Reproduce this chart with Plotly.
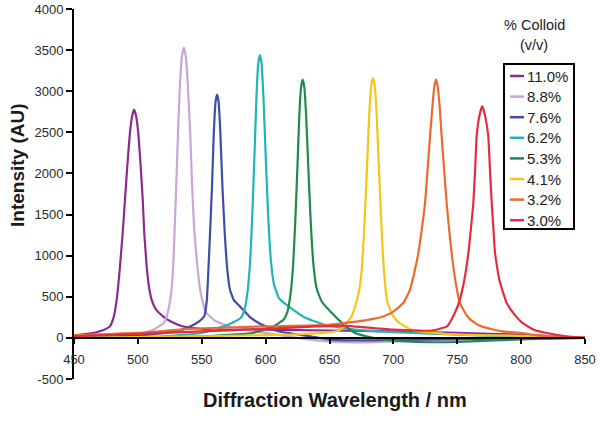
import plotly.graph_objects as go

# ---- data ----
series_names = ["11.0%", "8.8%", "7.6%", "6.2%", "5.3%", "4.1%", "3.2%", "3.0%"]
series_colors = ["#8C2A8E", "#C9A6D8", "#3E4EA6", "#22B4B6", "#1F8A4E", "#F5C51A", "#EC6A2E", "#E42C40"]

wl_110 = [450, 465, 472, 478, 481, 483.4, 486, 488.1, 489.9, 491.7, 493.8, 495.5, 497, 498.6, 500.3, 502.2, 503.8, 505, 506.9, 508.5, 510.8, 514, 519.9, 527, 535.6, 556, 580, 600, 650, 700, 750, 800, 850]
in_110 = [30, 60, 90, 140, 250, 462, 868, 1276, 1680, 2085, 2495, 2700, 2775, 2700, 2495, 2085, 1680, 1276, 868, 640, 462, 350, 259, 190, 138, 100, 100, 100, 90, 80, 60, 40, 0]

wl_88 = [450, 480, 500, 512, 520, 523, 526, 527.7, 529, 530, 531.5, 533, 534.5, 536, 537.5, 539, 541, 542.5, 544, 546.5, 549, 553, 560, 575, 600, 625, 650, 675, 700, 750, 800, 850]
in_88 = [0, 15, 40, 100, 177, 282, 530, 883, 1412, 1836, 2542, 3106, 3424, 3530, 3424, 3106, 2471, 1836, 1341, 883, 565, 318, 212, 120, 60, 0, -45, -55, -45, -20, -5, 0]

wl_76 = [450, 500, 530, 541, 548, 552, 554, 555.2, 556.5, 558, 559.5, 560.8, 562, 563.2, 564.5, 566.2, 568, 570, 572, 575, 580, 588, 596, 610, 630, 650, 680, 720, 780, 850]
in_76 = [10, 30, 80, 140, 200, 266, 462, 829, 1273, 1835, 2516, 2871, 2960, 2871, 2516, 1835, 1273, 829, 592, 462, 380, 250, 170, 80, 30, -20, -30, -20, -10, 0]

wl_62 = [450, 520, 550, 570, 580.5, 583.5, 586, 588, 589.7, 591.3, 592.8, 594.2, 595.5, 596.8, 598.3, 600, 601.8, 604, 606.5, 610.5, 618.5, 631.5, 647.5, 670, 700, 750, 800, 850]
in_62 = [0, 20, 60, 155, 241, 344, 585, 963, 1548, 2236, 2924, 3337, 3440, 3337, 2924, 2236, 1548, 963, 654, 482, 378, 241, 155, 100, 70, 40, 10, 0]

wl_53 = [450, 550, 590, 605, 614, 617, 619.5, 621.5, 623.2, 624.8, 626.3, 627.7, 629, 630.3, 631.8, 633.5, 635.3, 637.5, 640, 644, 652, 660, 670, 690, 720, 750, 780, 820, 850]
in_53 = [0, 20, 60, 130, 220, 314, 534, 879, 1413, 2041, 2669, 3046, 3140, 3046, 2669, 2041, 1413, 879, 597, 440, 300, 180, 60, -20, -50, -50, -30, -10, 0]

wl_41 = [450, 550, 620, 650, 658, 667, 671.5, 673.5, 675.5, 677.5, 679.3, 681, 682.6, 684, 685.4, 687, 688.7, 690.5, 692.3, 695, 699, 704, 715, 740, 780, 820, 850]
in_41 = [0, 20, 40, 70, 95, 253, 461, 600, 885, 1422, 2054, 2686, 3065, 3160, 3065, 2686, 2054, 1422, 885, 461, 284, 190, 95, 50, 30, 20, 0]

wl_32 = [450, 500, 540, 600, 650, 680, 692, 700, 708, 713, 716.5, 719.5, 722.3, 724.8, 726.8, 728.7, 730.5, 732, 733.4, 734.8, 736.3, 737.8, 739.7, 741.7, 743.6, 745.6, 748.5, 752, 758, 764, 770, 785, 799, 820, 850]
in_32 = [30, 60, 110, 140, 160, 220, 260, 320, 430, 584, 800, 1030, 1330, 1640, 2050, 2450, 2800, 3050, 3140, 3050, 2800, 2450, 2050, 1640, 1330, 1030, 700, 426, 260, 180, 134, 80, 60, 20, 0]

wl_30 = [450, 500, 550, 600, 640, 660, 700, 730, 742, 748, 752, 755.5, 758.7, 760.7, 762.6, 764, 765.2, 767.3, 769.6, 771.8, 774.3, 775.6, 777, 778.3, 779.6, 783, 788.7, 795, 801, 810, 820, 835, 850]
in_30 = [20, 50, 80, 110, 140, 150, 100, 90, 140, 300, 462, 700, 1030, 1330, 1640, 2050, 2450, 2700, 2820, 2700, 2450, 2050, 1640, 1330, 1030, 700, 426, 280, 182, 100, 60, 20, 0]

wavelengths = [wl_110, wl_88, wl_76, wl_62, wl_53, wl_41, wl_32, wl_30]
intensities = [in_110, in_88, in_76, in_62, in_53, in_41, in_32, in_30]

x_ticks = [450, 500, 550, 600, 650, 700, 750, 800, 850]
y_ticks = [-500, 0, 500, 1000, 1500, 2000, 2500, 3000, 3500, 4000]
y_tick_text = ["-500", "0", "500", "1000", "1500", "2000", "2500", "3000", "3500", "4000"]
x_range = [450, 850]
y_range = [-500, 4000]

# ---- layout geometry (page pixels) ----
W, H = 600, 421
PLOT_L, PLOT_R, PLOT_T, PLOT_B = 74, 585, 9, 379


def px(xp):
    return (xp - PLOT_L) / (PLOT_R - PLOT_L)


def py(yp):
    return (PLOT_B - yp) / (PLOT_B - PLOT_T)


fig = go.Figure()
for name, color, xs, ys in zip(series_names, series_colors, wavelengths, intensities):
    fig.add_trace(go.Scatter(
        x=xs, y=ys, mode="lines", name=name,
        line=dict(color=color, width=2.2, shape="spline", smoothing=0.4),
        showlegend=False,
    ))

tick_font = dict(family="Arial, Liberation Sans, sans-serif", size=13, color="#2a2a2a")
fig.update_layout(
    width=W, height=H, autosize=False,
    margin=dict(l=PLOT_L, r=W - PLOT_R, t=PLOT_T, b=H - PLOT_B, autoexpand=False),
    paper_bgcolor="white", plot_bgcolor="white",
    xaxis=dict(
        range=x_range, tickvals=x_ticks, showgrid=False, zeroline=False,
        showline=True, linecolor="black", linewidth=2,
        ticks="outside", ticklen=5, tickwidth=2, tickcolor="black",
        tickfont=tick_font, anchor="free", automargin=False,
        position=(0 - y_range[0]) / (y_range[1] - y_range[0]),
        ticklabelstandoff=5,
    ),
    yaxis=dict(
        range=y_range, tickvals=y_ticks, ticktext=y_tick_text,
        showgrid=False, zeroline=False, automargin=False,
        showline=True, linecolor="black", linewidth=2,
        ticks="outside", ticklen=6, tickwidth=2, tickcolor="black",
        tickfont=tick_font,
    ),
)

title_font = dict(family="Arial, Liberation Sans, sans-serif", size=20, color="#1a1a1a")
fig.add_annotation(text="<b>Diffraction Wavelength / nm</b>", xref="paper", yref="paper",
                   x=px(335), y=py(400), showarrow=False, font=title_font,
                   xanchor="center", yanchor="middle")
fig.add_annotation(text="<b>Intensity (AU)</b>", xref="paper", yref="paper",
                   x=px(17), y=py(165), showarrow=False, textangle=-90,
                   font=dict(family="Arial, Liberation Sans, sans-serif", size=19, color="#1a1a1a"),
                   xanchor="center", yanchor="middle")

# legend title
leg_font = dict(family="Arial, Liberation Sans, sans-serif", size=14.5, color="#222222")
fig.add_annotation(text="% Colloid", xref="paper", yref="paper", x=px(534), y=py(25),
                   showarrow=False, font=leg_font, xanchor="center", yanchor="middle")
fig.add_annotation(text="(v/v)", xref="paper", yref="paper", x=px(534), y=py(45),
                   showarrow=False, font=leg_font, xanchor="center", yanchor="middle")

# legend box and entries
fig.add_shape(type="rect", xref="paper", yref="paper",
              x0=px(504), x1=px(574), y0=py(64), y1=py(229),
              line=dict(color="black", width=2), fillcolor="white", layer="above")
entry_font = dict(family="Arial, Liberation Sans, sans-serif", size=15, color="#222222")
for i, (name, color) in enumerate(zip(series_names, series_colors)):
    yc = 76 + i * 20.6
    fig.add_shape(type="line", xref="paper", yref="paper",
                  x0=px(510), x1=px(524), y0=py(yc), y1=py(yc),
                  line=dict(color=color, width=2.5), layer="above")
    fig.add_annotation(text=name, xref="paper", yref="paper", x=px(525), y=py(yc),
                       showarrow=False, font=entry_font, xanchor="left", yanchor="middle")

fig.write_html("out.html", config={"displayModeBar": False, "responsive": False},
               post_script="document.body.style.margin='0';")
